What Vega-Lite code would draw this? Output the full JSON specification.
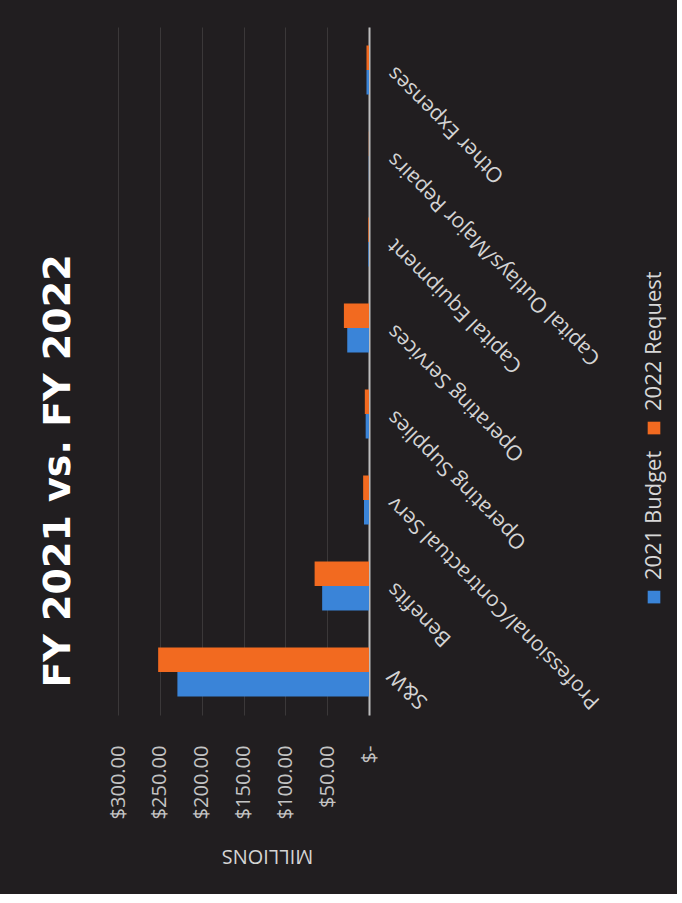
{
  "$schema": "https://vega.github.io/schema/vega-lite/v6.json",
  "background": "#211e20",
  "padding": {"left": 39, "top": 27, "right": 12, "bottom": 29},
  "config": {"view": {"stroke": null}, "font": "Open Sans"},
  "spacing": 38,
  "datasets": {
    "budget": [
      {"category": "S&W", "series": "2021 Budget", "value": 229},
      {"category": "S&W", "series": "2022 Request", "value": 252},
      {"category": "Benefits", "series": "2021 Budget", "value": 56},
      {"category": "Benefits", "series": "2022 Request", "value": 65},
      {"category": "Professional/Contractual Serv", "series": "2021 Budget", "value": 6},
      {"category": "Professional/Contractual Serv", "series": "2022 Request", "value": 7},
      {"category": "Operating Supplies", "series": "2021 Budget", "value": 4},
      {"category": "Operating Supplies", "series": "2022 Request", "value": 5},
      {"category": "Operating Services", "series": "2021 Budget", "value": 26},
      {"category": "Operating Services", "series": "2022 Request", "value": 30},
      {"category": "Capital Equipment", "series": "2021 Budget", "value": 0.8},
      {"category": "Capital Equipment", "series": "2022 Request", "value": 0.8},
      {"category": "Capital Outlays/Major Repairs", "series": "2021 Budget", "value": 0.2},
      {"category": "Capital Outlays/Major Repairs", "series": "2022 Request", "value": 0.2},
      {"category": "Other Expenses", "series": "2021 Budget", "value": 3},
      {"category": "Other Expenses", "series": "2022 Request", "value": 3}
    ],
    "legend": [
      {"series": "2021 Budget"},
      {"series": "2022 Request"}
    ]
  },
  "hconcat": [
    {
      "width": 251,
      "height": 688,
      "title": {
        "text": "FY 2021 vs. FY 2022",
        "orient": "left",
        "anchor": "middle",
        "fontSize": 38,
        "fontWeight": "bold",
        "color": "#ffffff",
        "font": "DejaVu Sans",
        "offset": 30,
        "dx": -100
      },
      "data": {"name": "budget"},
      "mark": {"type": "bar"},
      "encoding": {
        "y": {
          "field": "category",
          "type": "nominal",
          "sort": ["Other Expenses", "Capital Outlays/Major Repairs", "Capital Equipment", "Operating Services", "Operating Supplies", "Professional/Contractual Serv", "Benefits", "S&W"],
          "scale": {"paddingInner": 0.43, "paddingOuter": 0.215},
          "axis": {
            "orient": "right",
            "title": null,
            "labelAngle": 225,
            "labelAlign": "right",
            "labelBaseline": "middle",
            "labelFontSize": 21,
            "labelColor": "#d4d4d4",
            "labelPadding": 22,
            "labelLimit": 0,
            "labelOverlap": false,
            "ticks": false,
            "domainColor": "#bdbdbd",
            "domainWidth": 2,
            "grid": false
          }
        },
        "x": {
          "field": "value",
          "type": "quantitative",
          "scale": {"domain": [0, 300], "reverse": true, "nice": false},
          "axis": {
            "orient": "bottom",
            "values": [0, 50, 100, 150, 200, 250, 300],
            "labelExpr": "datum.value == 0 ? '$-' : '$' + format(datum.value, '.2f')",
            "labelAngle": 270,
            "labelAlign": "right",
            "labelBaseline": "middle",
            "labelFontSize": 20,
            "labelColor": "#c4c4c4",
            "labelPadding": 30,
            "labelOverlap": false,
            "labelFlush": false,
            "ticks": false,
            "domain": false,
            "grid": true,
            "gridColor": "#3b3839",
            "gridWidth": 1,
            "title": "MILLIONS",
            "titleAngle": 180,
            "titleAlign": "center",
            "titleBaseline": "middle",
            "titleX": 149,
            "titleY": 140,
            "titleFontSize": 20,
            "titleFontWeight": "normal",
            "titleColor": "#d4d4d4"
          }
        },
        "yOffset": {"field": "series", "type": "nominal", "sort": ["2022 Request", "2021 Budget"]},
        "color": {
          "field": "series",
          "type": "nominal",
          "scale": {"domain": ["2021 Budget", "2022 Request"], "range": ["#3a84d8", "#f26a20"]},
          "legend": null
        }
      }
    },
    {
      "width": 14,
      "height": 688,
      "data": {"name": "legend"},
      "encoding": {
        "y": {
          "field": "series",
          "type": "nominal",
          "scale": {"type": "point", "domain": ["slot1", "slot2", "2022 Request", "2021 Budget"], "padding": 0.535, "align": 0.348},
          "axis": null
        },
        "color": {
          "field": "series",
          "type": "nominal",
          "scale": {"domain": ["2021 Budget", "2022 Request"], "range": ["#3a84d8", "#f26a20"]},
          "legend": null
        }
      },
      "layer": [
        {"mark": {"type": "point", "shape": "square", "filled": true, "size": 160, "opacity": 1}},
        {
          "mark": {"type": "text", "angle": 270, "align": "left", "baseline": "middle", "dx": 17, "fontSize": 22, "color": "#d8d8d8", "font": "Open Sans"},
          "encoding": {"text": {"field": "series"}, "color": {"value": "#d8d8d8"}}
        }
      ]
    }
  ]
}
